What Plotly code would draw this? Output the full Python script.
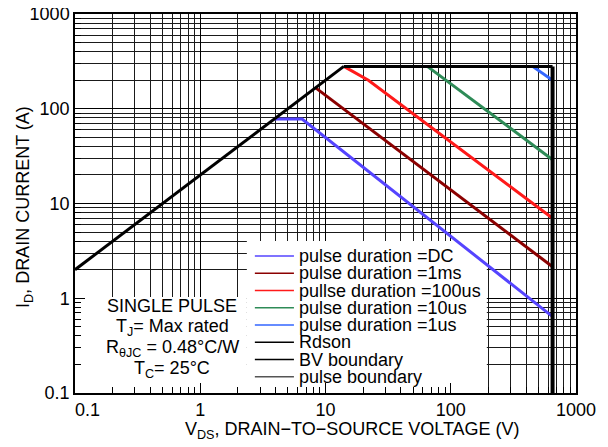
import plotly.graph_objects as go

# safe operating area data (V, A)
rdson_v = [0.1, 14]
rdson_i = [2, 280]
pulse_bound_v = [14, 650]
pulse_bound_i = [280, 280]
bv_v = [650, 650]
bv_i = [280, 0.1]
dc_v = [3.9, 6.5, 650]
dc_i = [78, 78, 0.64]
ms1_v = [8.3, 650]
ms1_i = [167, 2.15]
us100_v = [14, 22, 650]
us100_i = [280, 200, 7.0]
us10_v = [65, 650]
us10_i = [280, 29]
us1_v = [450, 650]
us1_i = [280, 200]

tick_vals = [0.1, 1, 10, 100, 1000]
tick_text = ["0.1", "1", "10", "100", "1000"]
# first x label sits a bit right of the corner in the original
x_tick_text = ["\u00a0\u00a0\u00a0\u00a0\u00a00.1"] + tick_text[1:]

legend_names = ["pulse duration =DC", "pulse duration =1ms", "pullse duration =100us",
                "pulse duration =10us", "pulse duration =1us", "Rdson", "BV boundary",
                "pulse boundary"]
legend_colors = ["#5544ff", "#8b0000", "#ff1a1a", "#2e8b57", "#3366ff", "#000000",
                 "#000000", "#555555"]

note_lines = ["SINGLE PULSE", "T<sub>J</sub>= Max rated",
              "R<sub>θJC</sub> = 0.48°C/W", "T<sub>C</sub>= 25°C"]

FONT = "Liberation Sans, Arial, sans-serif"

fig = go.Figure()

# white panels behind the legend and the note (main axes, 0-1 frame),
# drawn under the data traces but over the grid
panels = [([0.343, 0.822, 0.822, 0.343], [0, 0, 0.401, 0.401]),
          ([0, 0.343, 0.343, 0], [0, 0, 0.253, 0.253])]
for px, py in panels:
    fig.add_trace(go.Scatter(x=px, y=py, fill="toself", fillcolor="white", mode="none",
                             showlegend=False, hoverinfo="skip", xaxis="x", yaxis="y"))

curves = [
    (dc_v, dc_i, "#5544ff", 3),
    (ms1_v, ms1_i, "#8b0000", 3),
    (us100_v, us100_i, "#ff1a1a", 3),
    (us10_v, us10_i, "#2e8b57", 3),
    (us1_v, us1_i, "#3366ff", 3),
    (rdson_v, rdson_i, "#000000", 3),
    (pulse_bound_v, pulse_bound_i, "#000000", 3),
    (bv_v, bv_i, "#000000", 4),
]
for xv, yv, col, w in curves:
    fig.add_trace(go.Scatter(x=xv, y=yv, mode="lines", showlegend=False,
                             line=dict(color=col, width=w), hoverinfo="skip",
                             xaxis="x2", yaxis="y2"))

minor_vals = [m * 10 ** k for k in range(-1, 3) for m in range(2, 10)]

axis_common = dict(
    type="log",
    range=[-1, 3],
    tickvals=tick_vals,
    showgrid=True,
    gridcolor="#000000",
    gridwidth=1,
    ticks="inside",
    ticklen=10,
    tickcolor="#000000",
    showline=True,
    linecolor="#000000",
    linewidth=1.5,
    mirror=True,
    zeroline=False,
    automargin=False,
    ticklabeloverflow="allow",
    tickfont=dict(family=FONT, size=18, color="#000000"),
    minor=dict(tickvals=minor_vals, showgrid=True, gridcolor="#1a1a1a",
               gridwidth=1, ticks="inside", ticklen=6, tickcolor="#000000"),
)

hidden = dict(range=[0, 1], visible=False, fixedrange=True)

fig.update_layout(
    xaxis=hidden,
    yaxis=hidden,
    xaxis2=dict(overlaying="x", anchor="y2", side="bottom", ticktext=x_tick_text, **axis_common),
    yaxis2=dict(overlaying="y", anchor="x2", side="left", ticktext=tick_text, **axis_common),
)

# legend rows
for i, (name, col) in enumerate(zip(legend_names, legend_colors)):
    yy = (393 - (256 + i * 17.25)) / 379
    fig.add_shape(type="line", xref="paper", yref="paper", x0=0.359, x1=0.437,
                  y0=yy, y1=yy, line=dict(color=col, width=1.5), layer="above")
    fig.add_annotation(xref="paper", yref="paper", x=0.443, y=yy, text=name,
                       showarrow=False, xanchor="left", yanchor="middle",
                       font=dict(family=FONT, size=18, color="#000000"))

# note text
for i, t in enumerate(note_lines):
    yy = (393 - (306 + i * 21.3)) / 379
    fig.add_annotation(xref="paper", yref="paper", x=(172 - 75) / 501, y=yy, text=t,
                       showarrow=False, xanchor="center", yanchor="middle",
                       font=dict(family=FONT, size=18, color="#000000"))

# axis titles
fig.add_annotation(xref="paper", yref="paper", x=(352 - 75) / 501, y=(393 - 430) / 379,
                   text="V<sub>DS</sub>, DRAIN\u2212TO\u2212SOURCE VOLTAGE (V)",
                   showarrow=False, xanchor="center", yanchor="middle",
                   font=dict(family=FONT, size=18, color="#000000"))
fig.add_annotation(xref="paper", yref="paper", x=(24 - 75) / 501, y=(393 - 207) / 379,
                   text="I<sub>D</sub>, DRAIN CURRENT (A)", textangle=-90,
                   showarrow=False, xanchor="center", yanchor="middle",
                   font=dict(family=FONT, size=18, color="#000000"))

# page body adds an 8px offset, so the figure is sized to fit the window
fig.update_layout(
    template="none",
    width=600,
    height=439,
    margin=dict(l=67, r=32, t=6, b=54),
    plot_bgcolor="white",
    paper_bgcolor="white",
    showlegend=False,
)

fig.write_html("out.html")
